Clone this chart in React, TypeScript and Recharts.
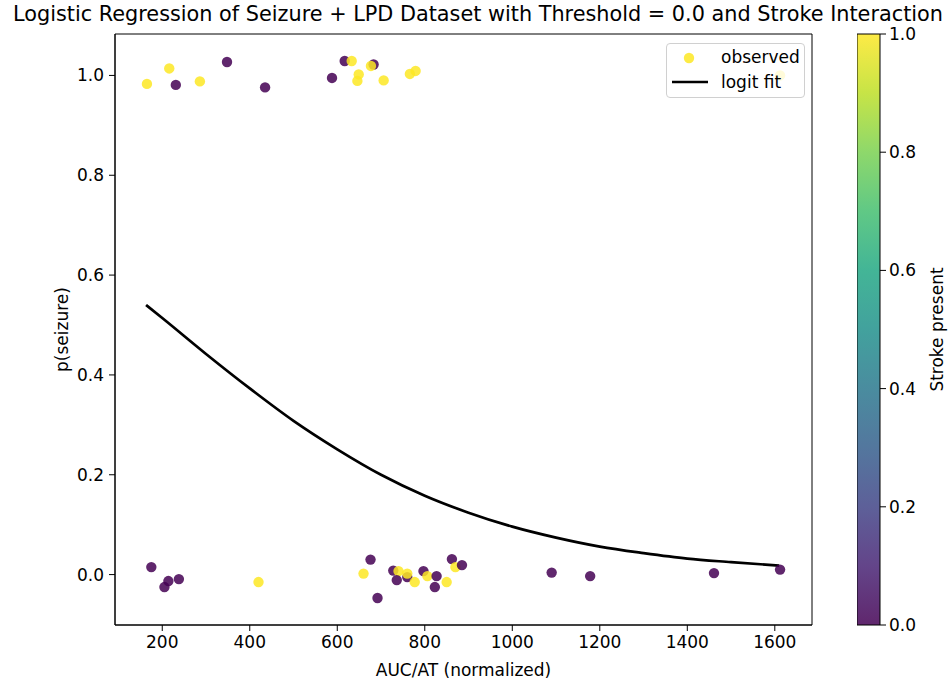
import React from 'react';
import {
  ComposedChart,
  BarChart,
  Bar,
  Scatter,
  Line,
  XAxis,
  YAxis,
  Legend,
  ReferenceArea
} from 'recharts';

// observed points: AUC/AT, jittered p(seizure), stroke present (0/1)
const obsX = [
  165, 216, 231, 286, 348, 435, 588, 617, 633, 649, 646, 683, 677, 706, 766, 779, 1612,
  175, 214, 205, 238, 420, 676, 660, 692, 728, 740, 736, 760, 760, 777, 797, 806, 827,
  823, 850, 862, 870, 885, 1090, 1178, 1461, 1612
];
const obsY = [
  0.983, 1.014, 0.981, 0.988, 1.027, 0.976, 0.995, 1.029, 1.029, 1.002, 0.989, 1.022, 1.019,
  0.99, 1.003, 1.009, 1.0,
  0.015, -0.013, -0.025, -0.009, -0.015, 0.03, 0.002, -0.047, 0.008, 0.007, -0.011, -0.005,
  0.002, -0.015, 0.007, -0.003, -0.003, -0.025, -0.015, 0.031, 0.015, 0.019, 0.004, -0.003,
  0.003, 0.01
];
const obsStroke = [
  1, 1, 0, 1, 0, 0, 0, 0, 1, 1, 1, 0, 1, 1, 1, 1, 1,
  0, 0, 0, 0, 1, 0, 1, 0, 0, 1, 0, 0, 1, 1, 0, 1, 0, 0, 1, 0, 1, 0, 0, 0, 0, 0
];

// logit fit curve
const fitX = [163, 200, 300, 400, 500, 600, 700, 800, 900, 1000, 1100, 1200, 1300, 1400, 1500, 1610];
const fitP = [0.54, 0.514, 0.442, 0.373, 0.308, 0.251, 0.2, 0.158, 0.124, 0.096, 0.074, 0.056, 0.043, 0.032, 0.025, 0.018];

const xTicks = [200, 400, 600, 800, 1000, 1200, 1400, 1600];
const yTicks = [0, 0.2, 0.4, 0.6, 0.8, 1.0];
const cbarTicks = [0, 0.2, 0.4, 0.6, 0.8, 1.0];

const X_DOMAIN: [number, number] = [92, 1685];
const Y_DOMAIN: [number, number] = [-0.101, 1.083];

const PURPLE = '#440154';
const YELLOW = '#fde725';
const FONT = "'DejaVu Sans', sans-serif";
const FS = 17;

const viridis = [
  '#440154', '#482475', '#414487', '#355f8d', '#2a788e', '#21918c',
  '#22a884', '#44bf70', '#7ad151', '#bddf26', '#fde725'
];

const observed = obsX.map((x, i) => ({ x, y: obsY[i], s: obsStroke[i] }));
const fit = fitX.map((x, i) => ({ x, p: fitP[i] }));

const tickStyle = { fontSize: FS, fill: '#000', fontFamily: FONT };
const labelStyle = { fontSize: FS, fill: '#000', fontFamily: FONT };

const Dot = (props: any) => {
  const { cx, cy, payload } = props;
  if (cx == null || cy == null) return null;
  return (
    <circle
      cx={cx}
      cy={cy}
      r={5.2}
      fill={payload.s === 1 ? YELLOW : PURPLE}
      fillOpacity={0.85}
    />
  );
};

const LegendBox = () => (
  <div
    style={{
      width: 137,
      height: 53,
      border: '1px solid #d0d0d0',
      borderRadius: 4,
      background: 'rgba(255,255,255,0.8)',
      fontFamily: FONT,
      fontSize: FS,
      color: '#000',
      position: 'relative'
    }}
  >
    <svg width={50} height={53} style={{ position: 'absolute', left: 0, top: 0 }}>
      <circle cx={22} cy={14} r={5.2} fill={YELLOW} fillOpacity={0.85} />
      <line x1={5} y1={38} x2={41} y2={38} stroke="#000" strokeWidth={2.7} />
    </svg>
    <div style={{ position: 'absolute', left: 54, top: 3, lineHeight: '20px' }}>observed</div>
    <div style={{ position: 'absolute', left: 54, top: 28, lineHeight: '20px' }}>logit fit</div>
  </div>
);

const App: React.FC = () => {
  return (
    <div style={{ position: 'absolute', left: 0, top: 0, width: 948, height: 681, background: '#fff' }}>
      <div
        style={{
          position: 'absolute',
          left: 478,
          top: 4,
          transform: 'translateX(-50%)',
          whiteSpace: 'nowrap',
          fontFamily: FONT,
          fontSize: 20.8,
          lineHeight: '20px',
          color: '#000'
        }}
      >
        Logistic Regression of Seizure + LPD Dataset with Threshold = 0.0 and Stroke Interaction
      </div>

      <div style={{ position: 'absolute', left: 0, top: 0 }}>
        <ComposedChart
          width={948}
          height={681}
          margin={{ top: 34, right: 136, bottom: 26, left: 55 }}
        >
          <XAxis
            type="number"
            dataKey="x"
            domain={X_DOMAIN}
            ticks={xTicks}
            allowDataOverflow
            height={30}
            tickSize={6}
            tickMargin={5}
            tick={tickStyle}
            stroke="#000"
            label={{
              value: 'AUC/AT (normalized)',
              position: 'bottom',
              offset: 9,
              style: labelStyle
            }}
          />
          <YAxis
            type="number"
            dataKey="y"
            domain={Y_DOMAIN}
            ticks={yTicks}
            allowDataOverflow
            width={60}
            tickSize={6}
            tickMargin={5}
            tick={tickStyle}
            stroke="#000"
            tickFormatter={(v: number) => v.toFixed(1)}
            label={{
              value: 'p(seizure)',
              angle: -90,
              position: 'insideLeft',
              offset: 7,
              style: { ...labelStyle, textAnchor: 'middle' }
            }}
          />
          <ReferenceArea
            x1={X_DOMAIN[0]}
            x2={X_DOMAIN[1]}
            y1={Y_DOMAIN[0]}
            y2={Y_DOMAIN[1]}
            fill="none"
            stroke="#000"
            strokeWidth={1}
          />
          <Scatter
            name="observed"
            data={observed}
            dataKey="y"
            shape={Dot}
            isAnimationActive={false}
          />
          <Line
            name="logit fit"
            data={fit}
            dataKey="p"
            type="monotone"
            stroke="#000"
            strokeWidth={2.7}
            dot={false}
            activeDot={false}
            isAnimationActive={false}
          />
          <Legend
            layout="vertical"
            align="center"
            verticalAlign="middle"
            content={() => <LegendBox />}
            wrapperStyle={{ left: 666, top: 43, width: 139, height: 55 }}
          />
        </ComposedChart>
      </div>

      {/* colorbar */}
      <div style={{ position: 'absolute', left: 857, top: 0 }}>
        <BarChart
          width={91}
          height={681}
          data={[{ name: 'stroke', v: 1 }]}
          margin={{ top: 34, right: 0, bottom: 56, left: 0 }}
          barCategoryGap={0}
        >
          <defs>
            <linearGradient id="viridisGrad" x1="0" y1="1" x2="0" y2="0">
              {viridis.map((c, i) => (
                <stop key={c} offset={`${i * 10}%`} stopColor={c} />
              ))}
            </linearGradient>
          </defs>
          <XAxis dataKey="name" hide />
          <YAxis
            orientation="right"
            type="number"
            domain={[0, 1]}
            ticks={cbarTicks}
            width={68}
            tickSize={6}
            tickMargin={3}
            axisLine={false}
            tick={{ ...tickStyle, textAnchor: 'start' }}
            stroke="#000"
            tickFormatter={(v: number) => v.toFixed(1)}
            label={{
              value: 'Stroke present',
              angle: -90,
              position: 'insideRight',
              offset: 11,
              style: { ...labelStyle, textAnchor: 'middle' }
            }}
          />
          <Bar
            dataKey="v"
            fill="url(#viridisGrad)"
            fillOpacity={0.85}
            stroke="#000"
            strokeWidth={1}
            isAnimationActive={false}
          />
        </BarChart>
      </div>
    </div>
  );
};

export default App;
